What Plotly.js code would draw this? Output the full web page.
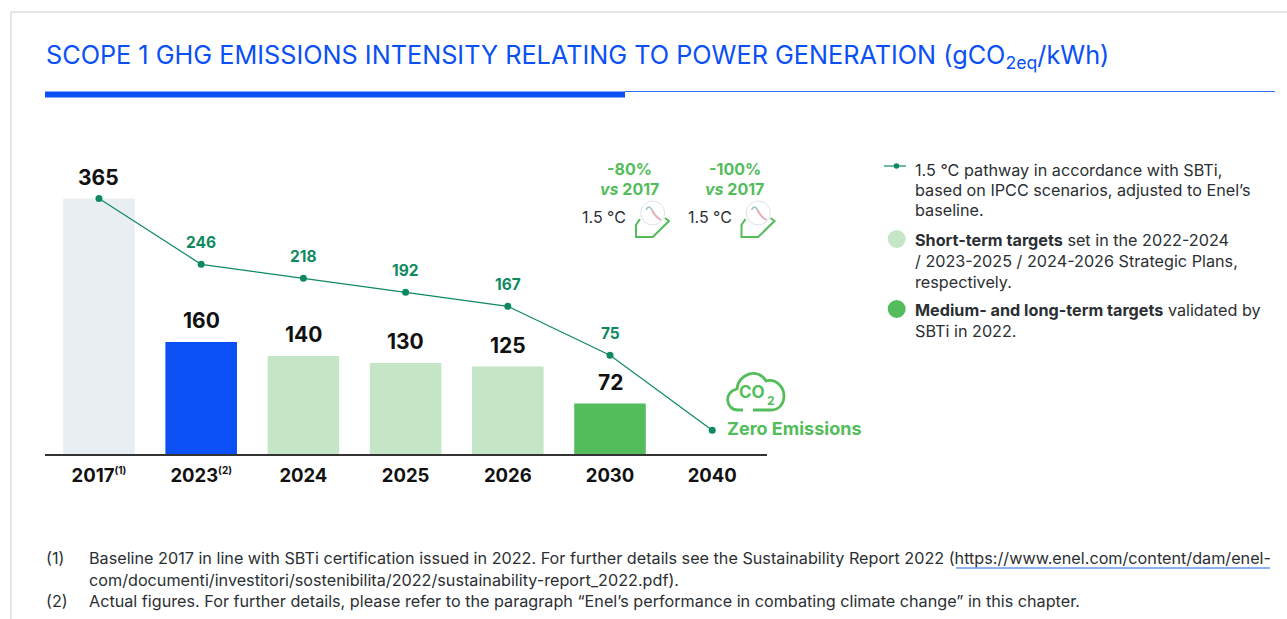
<!DOCTYPE html>
<html>
<head>
<meta charset="utf-8">
<script src="https://cdn.plot.ly/plotly-3.0.1.min.js"></script>
<style>html,body{margin:0;padding:0;background:#fff}#chart{width:1287px;height:619px}</style>
</head>
<body>
<div id="chart"></div>
<script>
// ---- data ----
const categories = ["2017","2023","2024","2025","2026","2030","2040"];
const tickLabels = ["2017<sup><span style=\"font-size:10px\">(1)</span></sup>","2023<sup><span style=\"font-size:10px\">(2)</span></sup>","2024","2025","2026","2030","2040"];
const barValues = [365,160,140,130,125,72,null];
const barColors = ["#e9eef2","#0a50f5","#c4e6c6","#c4e6c6","#c4e6c6","#52bd5a","rgba(0,0,0,0)"];
// The reference draws the pathway off the bars' scale: levels
const pathwayLevels = [365,271,251,231,211,141,34];
const pathwayLabels = [null,"246","218","192","167","75",null];
const titleText = "SCOPE 1 GHG EMISSIONS INTENSITY RELATING TO POWER GENERATION (gCO<sub>2eq</sub>/kWh)";
const legendLines = [
  ["1.5 °C pathway in accordance with SBTi,",170],
  ["based on IPCC scenarios, adjusted to Enel’s",190],
  ["baseline.",210],
  ["<b>Short-term targets</b> set in the 2022-2024",240],
  ["/ 2023-2025 / 2024-2026 Strategic Plans,",261],
  ["respectively.",282],
  ["<b>Medium- and long-term targets</b> validated by",310],
  ["SBTi in 2022.",331]
];
const noteLines = [
  ["(1)",45,558],
  ["Baseline 2017 in line with SBTi certification issued in 2022. For further details see the Sustainability Report 2022 (https://www.enel.com/content/dam/enel-",88,558],
  ["com/documenti/investitori/sostenibilita/2022/sustainability-report_2022.pdf).",88,580],
  ["(2)",45,601],
  ["Actual figures. For further details, please refer to the paragraph “Enel’s performance in combating climate change” in this chapter.",88,601]
];
const targetLabels = [["-80%","vs","2017"],["-100%","vs","2017"]];

// ---- page geometry ----
const L=45,R=767,T=130,B=454,W=R-L,H=B-T;
const X=x=>(x-L)/W, Y=y=>(B-y)/H;
const FONT="Inter, 'Noto Sans', sans-serif";
const GREEN="#52bd5a", PATH="#0f8a5f", BLUE="#0a50f5", DARK="#2b2f33";
const P=s=>s.replace(/(-?[\d.]+),(-?[\d.]+)/g,(m,a,b)=>X(+a)+","+Y(+b));
const note=(text,x,y,size,color,anchor)=>({text,xref:"paper",yref:"paper",x:X(x),y:Y(y),xanchor:anchor||"left",yanchor:"middle",showarrow:false,font:{family:FONT,size,color},borderpad:0});
const path=(d,color,width,fill)=>({type:"path",xref:"paper",yref:"paper",path:P(d),line:{color,width},fillcolor:fill||"rgba(0,0,0,0)",layer:"above"});
const line=(x0,y0,x1,y1,color,width)=>({type:"line",xref:"paper",yref:"paper",x0:X(x0),y0:Y(y0),x1:X(x1),y1:Y(y1),line:{color,width},layer:"above"});
const disc=(cx,cy,r,color,lc,lw)=>({type:"circle",xref:"paper",yref:"paper",x0:X(cx-r),y0:Y(cy-r),x1:X(cx+r),y1:Y(cy+r),fillcolor:color,line:{color:lc||color,width:lw||0},layer:"above"});

// ---- annotations ----
const annotations=[];
barValues.forEach((v,i)=>{ if(v!==null) annotations.push({x:i,y:v,xref:"x",yref:"y",yshift:21.5,text:"<b>"+v+"</b>",showarrow:false,xanchor:"center",yanchor:"middle",font:{family:FONT,size:21,color:"#111"}}); });
pathwayLabels.forEach((t,i)=>{ if(t) annotations.push({x:i,y:pathwayLevels[i],xref:"x",yref:"y",yshift:22,text:"<b>"+t+"</b>",showarrow:false,xanchor:"center",yanchor:"middle",font:{family:FONT,size:15.5,color:PATH}}); });
targetLabels.forEach((t,i)=>{
  const cx=[629,734.5][i], dx=[0,105.5][i];
  annotations.push(note("<b>"+t[0]+"</b>",cx,169,16,GREEN,"center"));
  annotations.push(note("<b><i>"+t[1]+"</i> "+t[2]+"</b>",cx,189,16,GREEN,"center"));
  annotations.push(note("1.5 °C",581+dx,217,16,DARK));
});
annotations.push(note("<b>CO</b>",752,392,17,GREEN,"center"));
annotations.push(note("<b>2</b>",771,400,12,GREEN,"center"));
annotations.push(note("<b>Zero Emissions</b>",726,428,18,GREEN));
legendLines.forEach(l=>annotations.push(note(l[0],913.5,l[1],16.2,DARK)));
noteLines.forEach(l=>annotations.push(note(l[0],l[1],l[2],16.2,DARK)));

// ---- shapes ----
const shapes=[
  line(11,12,1287,12,"#dcdcdc",1.5),
  line(11,12,11,619,"#dcdcdc",1.5),
  line(625,91.5,1275,91.5,"#2f6bf5",1),
  line(45,94.5,625,94.5,BLUE,6),
  line(956,568,1270,568,"#6a96f0",1.5),
  line(884,166,906,166,PATH,1.2),
  disc(896.5,166,2.8,PATH),
  disc(896.7,239,9,"#c4e6c6"),
  disc(896.7,309,9,GREEN),
  path("M 743,410 L 738,410 C 726,410 723,392 737,389 C 738,374 758,367 766,381 C 776,378 784,387 784,396 C 784,405 778,410 771,410 L 753,410",GREEN,2.8)
];
[0,105.5].forEach(d=>{
  const s=n=>n+d;
  shapes.push(disc(s(652.7),213,12,"#ffffff","#dfe3e6",1));
  shapes.push(path(`M ${s(646)},210 C ${s(648)},206 ${s(650)},206 ${s(652)},210`,"#9fc0cc",1.6));
  shapes.push(path(`M ${s(652)},210 C ${s(654)},214 ${s(657)},218 ${s(661)},220`,"#e6aeb4",2));
  shapes.push(path(`M ${s(640)},219 L ${s(636)},225 L ${s(636)},237 L ${s(652.7)},237 L ${s(669)},221 L ${s(665)},218`,GREEN,2));
});

// ---- traces ----
const bars={type:"bar",x:categories,y:barValues,width:0.7,marker:{color:barColors,line:{width:0}},showlegend:false,hoverinfo:"x+y"};
const pathway={type:"scatter",mode:"lines+markers",x:categories,y:pathwayLevels,line:{color:PATH,width:1.2},marker:{color:PATH,size:7},showlegend:false,hoverinfo:"x"};

Plotly.newPlot("chart",[bars,pathway],{
  width:1287,height:619,autosize:false,
  paper_bgcolor:"#ffffff",plot_bgcolor:"#ffffff",
  margin:{l:L,r:1287-R,t:T,b:619-B,pad:0},
  font:{family:FONT},
  title:{text:titleText,x:46/1287,xanchor:"left",xref:"container",y:1-55/619,yref:"container",yanchor:"middle",font:{family:FONT,size:25.26,color:BLUE}},
  xaxis:{type:"category",categoryorder:"array",categoryarray:categories,range:[-0.528,6.536],tickmode:"array",tickvals:categories,ticktext:tickLabels,ticks:"outside",ticklen:4,tickcolor:"rgba(0,0,0,0)",showline:true,linecolor:"#333",linewidth:1.5,showgrid:false,zeroline:false,tickfont:{family:FONT,size:18.5,color:"#111",weight:700}},
  yaxis:{range:[0,H/0.7],visible:false,showgrid:false,zeroline:false},
  annotations,shapes,bargap:0.3
},{displayModeBar:false,responsive:false});
</script>
</body>
</html>
